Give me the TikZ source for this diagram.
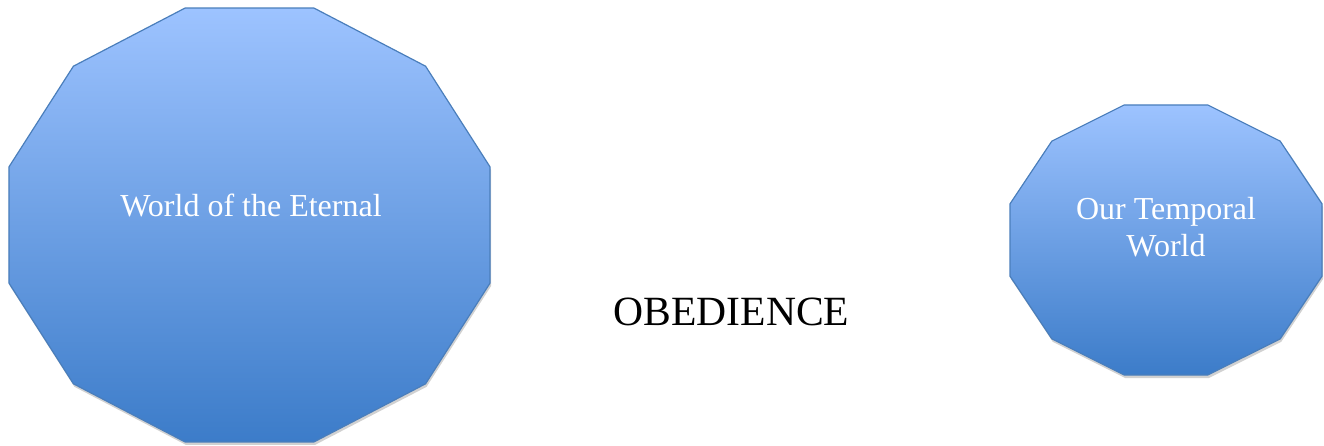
\documentclass[tikz,border=0pt]{standalone}
\usepackage{fontspec}
\setmainfont{Liberation Serif}
\definecolor{gtop}{RGB}{157,195,255}
\definecolor{gbot}{RGB}{60,124,201}
\definecolor{gline}{RGB}{74,126,187}
\tikzset{
  dodeca/.style={draw=gline, line width=0.6pt, top color=gtop, bottom color=gbot, line join=miter},
  dshadow/.style={fill=black, opacity=0.18},
  inlabel/.style={text=white, font=\fontsize{16}{18.5}\selectfont, align=center, inner sep=0pt},
  outlabel/.style={text=black, font=\fontsize{20.8}{24}\selectfont, inner sep=0pt}
}
\begin{document}
\begin{tikzpicture}[x=0.5pt,y=-0.5pt]
\useasboundingbox (0,0) rectangle (1324,445);
% shadows
\fill[dshadow] plot[samples at={15,45,...,345}] ({250.5+249*cos(\x)},{228+224.6*sin(\x)}) -- cycle;
\fill[dshadow] plot[samples at={15,45,...,345}] ({1167+161.5*cos(\x)},{243+139.8*sin(\x)}) -- cycle;
% large dodecagon
\path[dodeca] plot[samples at={15,45,...,345}] ({249.5+249*cos(\x)},{225+224.6*sin(\x)}) -- cycle;
% small dodecagon
\path[dodeca] plot[samples at={15,45,...,345}] ({1166+161.5*cos(\x)},{240+139.8*sin(\x)}) -- cycle;
% labels
\node[inlabel, anchor=base] (eternal) at (251,216) {World of the Eternal};
\node[inlabel, anchor=base] (temporal) at (1166,256) {Our Temporal\\World};
\node[outlabel, anchor=base] (obedience) at (731.5,325) {OBEDIENCE};
\end{tikzpicture}
\end{document}
